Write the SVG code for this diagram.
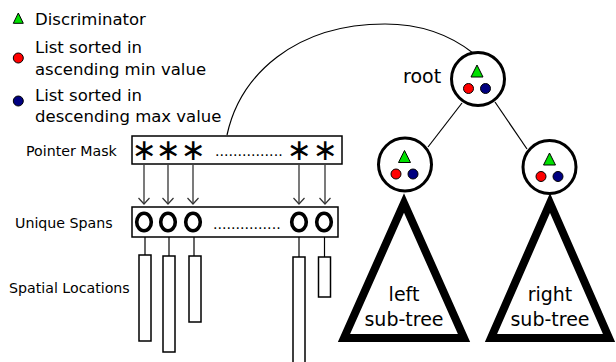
<svg xmlns="http://www.w3.org/2000/svg" width="616" height="362" viewBox="0 0 616 362">
<defs>
<style>
text{font-family:"DejaVu Sans","Liberation Sans",sans-serif;fill:#000}
.leg{font-size:16.5px}
.lbl{font-size:14.2px}
.big{font-size:19px}
.box{fill:#fff;stroke:#000;stroke-width:1.5}
.bar{fill:#fff;stroke:#000;stroke-width:1.5}
.ln{stroke:#000;stroke-width:1.2;fill:none}
.arr{stroke:#333;stroke-width:1.3;fill:none;marker-end:url(#v)}
.ring{fill:none;stroke:#000;stroke-width:3.6}
.node{fill:#fff;stroke:#000;stroke-width:3}
.sub{fill:#fff;stroke:#000;stroke-width:8;stroke-linejoin:miter;stroke-miterlimit:10}
.tri{fill:#00e000;stroke:#000;stroke-width:1}
.red{fill:#ff0000;stroke:#000;stroke-width:1}
.blue{fill:#000080;stroke:#000;stroke-width:1}
.ast{font-size:30px}
</style>
<marker id="v" markerWidth="10" markerHeight="14" refX="7" refY="7" markerUnits="userSpaceOnUse" orient="auto" viewBox="0 0 10 14">
<path d="M1,1.5 L7,7 L1,12.5" fill="none" stroke="#333" stroke-width="1.2"/>
</marker>
<g id="icons">
<polygon class="tri" points="0,-14 -6,-2 6,-2"/>
<circle class="red" cx="-8.5" cy="9.5" r="5"/>
<circle class="blue" cx="8.5" cy="9.5" r="5"/>
</g>
</defs>
<rect width="616" height="362" fill="#fff"/>

<g id="legend">
<polygon class="tri" points="18.3,13 13.3,23.3 23.3,23.3"/>
<text class="leg" x="35" y="25">Discriminator</text>
<circle class="red" cx="18.3" cy="58" r="5"/>
<text class="leg" x="35" y="53">List sorted in</text>
<text class="leg" x="35" y="75">ascending min value</text>
<circle class="blue" cx="18.3" cy="101" r="5"/>
<text class="leg" x="35" y="101">List sorted in</text>
<text class="leg" x="35" y="122">descending max value</text>
</g>

<g id="connectors">
<path class="ln" d="M227,135 C240,75 295,24 385,24 C420,24 450,35 473,53"/>
<line class="ln" x1="462" y1="103" x2="428" y2="147"/>
<line class="ln" x1="495" y1="102" x2="527" y2="149"/>
<line class="arr" x1="144" y1="165" x2="144" y2="204"/>
<line class="arr" x1="168" y1="165" x2="168" y2="204"/>
<line class="arr" x1="193" y1="165" x2="193" y2="204"/>
<line class="arr" x1="299" y1="165" x2="299" y2="204"/>
<line class="arr" x1="325" y1="165" x2="325" y2="204"/>
<line class="ln" x1="145" y1="232" x2="145" y2="255"/>
<line class="ln" x1="169" y1="232" x2="169" y2="256"/>
<line class="ln" x1="194" y1="232" x2="194" y2="256"/>
<line class="ln" x1="299" y1="232" x2="299" y2="257"/>
<line class="ln" x1="324.5" y1="232" x2="324.5" y2="257"/>
</g>

<g id="pointer-mask">
<text class="lbl" x="26" y="156">Pointer Mask</text>
<rect class="box" x="132" y="136" width="210" height="28"/>
<text class="ast" x="144" y="160" text-anchor="middle">∗</text>
<text class="ast" x="168" y="160" text-anchor="middle">∗</text>
<text class="ast" x="193" y="160" text-anchor="middle">∗</text>
<text class="lbl" x="215" y="156">...............</text>
<text class="ast" x="299" y="160" text-anchor="middle">∗</text>
<text class="ast" x="325" y="160" text-anchor="middle">∗</text>
</g>

<g id="unique-spans">
<text class="lbl" x="15" y="228">Unique Spans</text>
<rect class="box" x="132" y="207" width="206" height="30"/>
<ellipse class="ring" cx="144" cy="222" rx="7.3" ry="8.8"/>
<ellipse class="ring" cx="168" cy="222" rx="7.3" ry="8.8"/>
<ellipse class="ring" cx="193" cy="222" rx="7.3" ry="8.8"/>
<text class="lbl" x="213" y="229">...............</text>
<ellipse class="ring" cx="299" cy="222" rx="7.3" ry="8.8"/>
<ellipse class="ring" cx="324" cy="222" rx="7.3" ry="8.8"/>
</g>

<g id="spatial-locations">
<text class="lbl" x="9" y="293">Spatial Locations</text>
<rect class="bar" x="139" y="255" width="12" height="86"/>
<rect class="bar" x="163" y="256" width="12" height="96"/>
<rect class="bar" x="189" y="256" width="12" height="66"/>
<rect class="bar" x="293" y="257" width="12" height="110"/>
<rect class="bar" x="318.5" y="257" width="12" height="40"/>
</g>

<g id="left-subtree">
<polygon class="sub" points="404,203 464,338 344,338"/>
<text class="big" x="404" y="301" text-anchor="middle">left</text>
<text class="big" x="404" y="326" text-anchor="middle">sub-tree</text>
</g>

<g id="right-subtree">
<polygon class="sub" points="550,203 609,338 491,338"/>
<text class="big" x="550" y="301" text-anchor="middle">right</text>
<text class="big" x="550" y="326" text-anchor="middle">sub-tree</text>
</g>

<g id="root">
<text class="big" x="403" y="83">root</text>
<circle class="node" cx="478" cy="79" r="26.5"/>
<use href="#icons" transform="translate(477,79)"/>
</g>

<g id="left-child">
<circle class="node" cx="405" cy="164.5" r="26.5"/>
<use href="#icons" transform="translate(404.5,164.5)"/>
</g>

<g id="right-child">
<circle class="node" cx="549.5" cy="167" r="26.5"/>
<use href="#icons" transform="translate(549.5,167)"/>
</g>
</svg>
